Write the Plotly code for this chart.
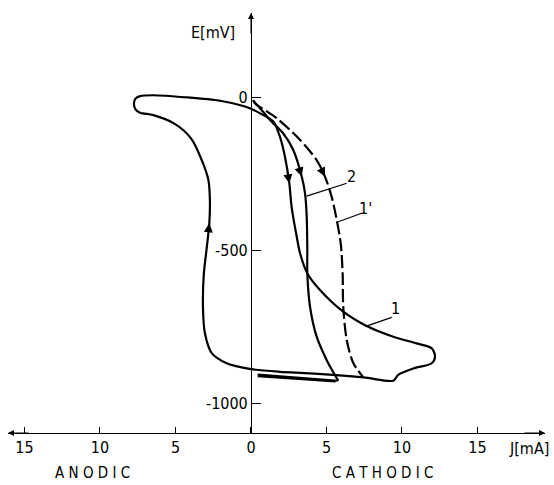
import plotly.graph_objects as go

# ---------------- data (J in mA: cathodic positive, anodic negative; E in mV) ----------------
# Curve 1: full cycle
c1_J = [0.0, 0.82, 1.48, 1.92, 2.25, 2.54, 2.69, 3.03, 3.25, 3.73, 4.57, 6.11, 7.66, 9.42,
        10.97, 11.97, 12.19, 11.97, 10.75, 9.75, 9.42, 7.44, 3.91, 1.92, 0.0, -1.61, -2.60,
        -3.05, -3.18, -3.12, -2.95, -2.76, -2.72, -2.82, -3.26, -3.97, -5.10, -6.47, -7.35,
        -7.65, -7.75, -7.65, -7.35, -6.47, -4.26, -2.05, -0.51, 0.0]
c1_E = [-36, -57, -78, -128, -193, -280, -357, -455, -509, -575, -629, -700, -747, -782,
        -804, -820, -847, -869, -886, -907, -926, -915, -902, -897, -888, -869, -836,
        -771, -684, -575, -500, -411, -335, -269, -204, -133, -84, -57, -49,
        -38, -18, -3, 5, 8, 1, -10, -27, -36]

# Curve 2: descending branch and short return at the lower limit
c2_J = [0.15, 0.7, 1.26, 2.14, 2.80, 3.36, 3.58, 3.69, 3.73, 3.73, 3.91, 4.35, 5.01, 5.68, 5.78]
c2_E = [-10, -40, -73, -117, -171, -258, -313, -389, -498, -575, -684, -782, -858, -918, -926]
c2_ret_J = [5.78, 0.5, 0.5, 5.6]
c2_ret_E = [-926, -906, -912, -929]

# Curve 1': dashed
d_J = [0.15, 0.26, 1.70, 3.25, 4.35, 4.90, 5.34, 5.68, 5.95, 6.07, 6.11, 6.34, 6.78, 7.44]
d_E = [-8, -18, -67, -138, -204, -258, -324, -400, -480, -575, -684, -793, -869, -915]

# direction arrows: (curve, index of tip)
arrow_idx = [("c1", 5), ("c1", 31), ("c2", 5), ("d", 5)]

# curve labels with leader lines
lab_text = ["2", "1'", "1"]
lab_J = [6.65, 7.6, 9.6]
lab_E = [-258, -364, -690]
lead_J0 = [3.69, 5.78, 7.55]
lead_E0 = [-322, -406, -749]
lead_J1 = [6.34, 7.33, 9.32]
lead_E1 = [-280, -378, -719]

tick_vals = [-15, -10, -5, 0, 5, 10, 15]
tick_text = ["15", "10", "5", "0", "5", "10", "15"]
ytick_vals = [0, -500, -1000]
ytick_text = ["0", "-500", "-1000"]

x_range = [-16.09, 19.47]
y_range = [-1097.2, 277.2]

FONT = "Liberation Sans Narrow, DejaVu Sans Condensed, Liberation Sans, sans-serif"

fig = go.Figure()
fig.add_trace(go.Scatter(x=c1_J, y=c1_E, mode="lines",
                         line=dict(color="black", width=2.2, shape="spline", smoothing=0.8)))
fig.add_trace(go.Scatter(x=c2_J, y=c2_E, mode="lines",
                         line=dict(color="black", width=2.2, shape="spline", smoothing=0.8)))
fig.add_trace(go.Scatter(x=c2_ret_J, y=c2_ret_E, mode="lines",
                         line=dict(color="black", width=1.8)))
fig.add_trace(go.Scatter(x=d_J, y=d_E, mode="lines",
                         line=dict(color="black", width=2.2, dash="13px,4px",
                                   shape="spline", smoothing=0.8)))
for i in range(len(lab_text)):
    fig.add_trace(go.Scatter(x=[lead_J0[i], lead_J1[i]], y=[lead_E0[i], lead_E1[i]],
                             mode="lines", line=dict(color="black", width=1.2)))

curves = {"c1": (c1_J, c1_E), "c2": (c2_J, c2_E), "d": (d_J, d_E)}
annotations = []
for name, k in arrow_idx:
    xs, ys = curves[name]
    tip = (xs[k], ys[k])
    tail = (xs[k] - 0.35 * (xs[k] - xs[k - 1]), ys[k] - 0.35 * (ys[k] - ys[k - 1]))
    annotations.append(dict(x=tip[0], y=tip[1], ax=tail[0], ay=tail[1], axref="x", ayref="y",
                            xref="x", yref="y", text="", showarrow=True, arrowhead=2,
                            arrowsize=0.9, arrowwidth=2, arrowcolor="black", standoff=0))
for i in range(len(lab_text)):
    annotations.append(dict(x=lab_J[i], y=lab_E[i], text=lab_text[i], showarrow=False,
                            font=dict(family=FONT, size=16, color="black")))

# axis arrows
annotations += [
    dict(x=0, y=y_range[1], ax=0, ay=22, text="", showarrow=True, arrowhead=2, arrowsize=1.2,
         arrowwidth=1, arrowcolor="black", standoff=0),
    dict(x=x_range[1], y=y_range[0], ax=-22, ay=0, text="", showarrow=True, arrowhead=2,
         arrowsize=1.2, arrowwidth=1, arrowcolor="black", standoff=0),
    dict(x=x_range[0], y=y_range[0], ax=22, ay=0, text="", showarrow=True, arrowhead=2,
         arrowsize=1.2, arrowwidth=1, arrowcolor="black", standoff=0),
]
# axis titles and side labels
annotations += [
    dict(x=-2.5, y=212, text="E[mV]", showarrow=False,
         font=dict(family=FONT, size=16, color="black")),
    dict(x=18.4, y=-0.036, xref="x", yref="paper", yanchor="middle", text="J[mA]",
         showarrow=False, font=dict(family=FONT, size=16, color="black")),
    dict(x=-10.5, y=-0.095, xref="x", yref="paper", yanchor="middle", text="A N O D I C",
         showarrow=False, font=dict(family=FONT, size=15, color="black")),
    dict(x=8.7, y=-0.095, xref="x", yref="paper", yanchor="middle", text="C A T H O D I C",
         showarrow=False, font=dict(family=FONT, size=15, color="black")),
]

fig.update_layout(
    width=554, height=485,
    margin=dict(l=8, r=9, t=13, b=52),
    paper_bgcolor="white", plot_bgcolor="white",
    showlegend=False,
    annotations=annotations,
    xaxis=dict(range=x_range, showgrid=False, zeroline=False, showline=True,
               linecolor="black", linewidth=1, ticks="inside", ticklen=6,
               tickcolor="black", tickvals=tick_vals, ticktext=tick_text,
               tickfont=dict(family=FONT, size=16, color="black")),
    yaxis=dict(range=y_range, showgrid=False, zeroline=False, showline=True,
               linecolor="black", linewidth=1, anchor="free",
               position=(0 - x_range[0]) / (x_range[1] - x_range[0]),
               side="left", ticks="inside", ticklen=9, tickcolor="black",
               tickvals=ytick_vals, ticktext=ytick_text,
               tickfont=dict(family=FONT, size=16, color="black")),
)

fig.write_html("out.html", post_script="document.body.style.margin='0';",
               config={"displayModeBar": False})
